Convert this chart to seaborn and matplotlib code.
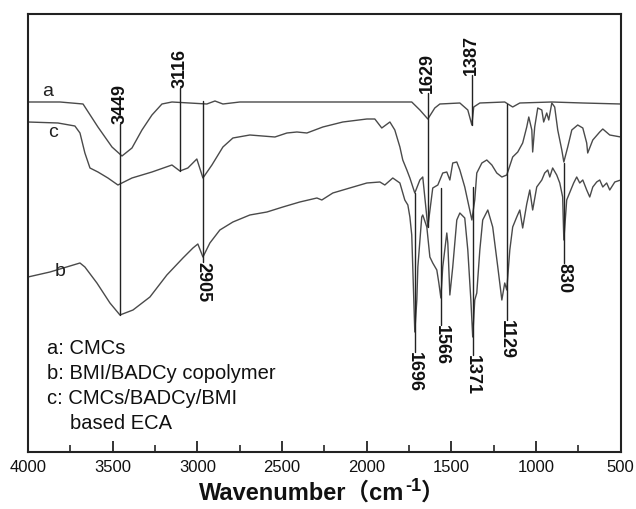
import numpy as np
import pandas as pd
import seaborn as sns
import matplotlib
matplotlib.use("Agg")
import matplotlib.pyplot as plt

# FTIR spectra, wavenumber (cm-1) and transmittance (a.u., stacked)
wn_a = [4000, 3811, 3675, 3587, 3504, 3445, 3386, 3327, 3268, 3209, 3150, 2944, 2896, 2849,
        2749, 2395, 1922, 1734, 1686, 1639, 1598, 1568, 1450, 1403, 1379, 1368, 1332, 1185,
        1138, 1096, 907, 724, 500]
t_a = [350, 350, 348, 325, 305, 296, 304, 322, 337, 348, 350, 348, 351, 348,
       350, 350, 350, 350, 342, 333, 344, 348, 349, 342, 327, 345, 349, 350,
       345, 349, 350, 349, 348]

wn_c = [4000, 3823, 3723, 3693, 3664, 3634, 3587, 3528, 3469, 3386, 3268, 3150, 3103, 3056,
        3003, 2967, 2914, 2849, 2790, 2690, 2542, 2471, 2412, 2353, 2259, 2141, 1999, 1952,
        1911, 1863, 1834, 1804, 1787, 1763, 1745, 1716, 1686, 1669, 1639, 1610, 1580, 1551,
        1527, 1509, 1492, 1468, 1450, 1421, 1379, 1362, 1350, 1320, 1291, 1261, 1232, 1202,
        1173, 1138, 1108, 1079, 1055, 1043, 1025, 1020, 1008, 990, 966, 955, 937, 925,
        907, 890, 872, 848, 836, 813, 789, 754, 724, 701, 695, 665, 624, 606, 565, 500]
t_c = [330, 329, 326, 319, 299, 284, 280, 274, 267, 274, 280, 287, 281, 284,
       293, 274, 287, 305, 314, 317, 315, 319, 320, 319, 325, 330, 333, 333,
       324, 330, 322, 305, 292, 282, 274, 259, 272, 275, 225, 264, 267, 279,
       280, 272, 289, 290, 282, 265, 232, 252, 279, 289, 292, 287, 279, 275,
       277, 295, 300, 309, 325, 335, 322, 300, 325, 344, 342, 330, 339, 332,
       349, 345, 322, 302, 290, 305, 322, 327, 324, 309, 299, 312, 320, 323, 317, 315]

wn_b = [4000, 3870, 3693, 3664, 3593, 3516, 3457, 3380, 3280, 3180, 3085, 3026, 2997, 2967,
        2926, 2867, 2790, 2690, 2589, 2495, 2395, 2294, 2265, 2200, 2100, 1999, 1922, 1893,
        1846, 1804, 1775, 1757, 1745, 1734, 1728, 1716, 1704, 1698, 1675, 1669, 1645, 1627,
        1610, 1586, 1574, 1562, 1551, 1527, 1521, 1509, 1492, 1468, 1450, 1421, 1403, 1385,
        1374, 1362, 1350, 1332, 1315, 1285, 1256, 1226, 1202, 1185, 1173, 1155, 1138, 1114,
        1096, 1079, 1055, 1037, 1020, 996, 966, 949, 931, 919, 902, 878, 860, 843,
        836, 819, 795, 778, 760, 742, 724, 701, 683, 665, 642, 624, 606, 583, 565, 535, 500]
t_b = [175, 180, 189, 185, 169, 149, 137, 142, 155, 177, 194, 204, 208, 195,
       209, 222, 230, 237, 240, 245, 250, 254, 252, 259, 264, 269, 270, 267,
       274, 269, 252, 247, 235, 217, 185, 120, 152, 185, 235, 237, 225, 195,
       189, 182, 169, 154, 185, 219, 209, 157, 185, 232, 239, 234, 202, 152,
       115, 152, 159, 202, 232, 242, 225, 185, 152, 169, 162, 202, 225, 235,
       242, 224, 248, 262, 242, 265, 272, 279, 282, 275, 284, 277, 269, 255,
       212, 252, 262, 269, 275, 269, 272, 262, 255, 265, 270, 272, 265, 269, 262, 270, 272]

# marked bands: label, position on axis, line top, line bottom, label side
peak_labels = ["3449", "3116", "2905", "1696", "1629", "1566", "1387", "1371", "1129", "830"]
peak_pos = [3457, 3103, 2967, 1716, 1639, 1562, 1379, 1374, 1173, 836]
line_top = [328, 364, 351, 259, 359, 264, 377, 265, 348, 289]
line_bot = [137, 281, 190, 100, 225, 127, 327, 97, 132, 189]
label_up = [True, True, False, False, True, False, True, False, False, False]

legend_lines = ["a: CMCs", "b: BMI/BADCy copolymer", "c: CMCs/BADCy/BMI", "based ECA"]
legend_x = [0.032, 0.032, 0.032, 0.071]

sns.set_theme(style="white")
plt.rcParams["font.family"] = ["Liberation Sans", "DejaVu Sans"]

fig = plt.figure(figsize=(6.36, 5.09), dpi=100)
ax = fig.add_axes([0.044, 0.112, 0.932, 0.8605])

curve_col = "#4a4a4a"
for wn, t in [(wn_a, t_a), (wn_b, t_b), (wn_c, t_c)]:
    df = pd.DataFrame({"wn": wn, "t": t})
    sns.lineplot(data=df, x="wn", y="t", color=curve_col, lw=1.0, estimator=None, ax=ax)

for lab, x, y0, y1, up in zip(peak_labels, peak_pos, line_top, line_bot, label_up):
    ax.plot([x, x], [y0, y1], color="#222222", lw=1.0)
    if up:
        ax.text(x, y0, lab, rotation=90, ha="center", va="bottom", fontsize=13,
                fontweight="bold", color="#111111")
    else:
        ax.text(x, y1, lab, rotation=270, ha="center", va="top", fontsize=13,
                fontweight="bold", color="#111111")

ax.text(3882, 360, "a", fontsize=14, ha="center", va="center", color="#222222")
ax.text(3852, 319, "c", fontsize=14, ha="center", va="center", color="#222222")
ax.text(3811, 180, "b", fontsize=14, ha="center", va="center", color="#222222")

for i, (s, lx) in enumerate(zip(legend_lines, legend_x)):
    ax.text(lx, 0.237 - i * 0.0575, s, transform=ax.transAxes, fontsize=14.5,
            ha="left", va="center", color="#111111")

ax.set_xlim(4000, 500)
ax.set_ylim(0, 438)
ax.set_xticks(np.arange(4000, 499, -500))
ax.set_xticks(np.arange(3750, 500, -500), minor=True)
ax.set_yticks([])
ax.tick_params(axis="x", which="major", direction="in", length=8, width=1.2, pad=6,
               labelsize=12, colors="#111111", bottom=True, top=False)
ax.tick_params(axis="x", which="minor", direction="in", length=5, width=1.2, bottom=True, top=False)
for sp in ax.spines.values():
    sp.set_linewidth(1.5)
    sp.set_color("#222222")
ax.set_xlabel("")
ax.set_ylabel("")

# x axis title with full-width brackets and superscript
fam = ["Liberation Sans", "Noto Sans CJK SC"]
parts = [("Wavenumber\uff08cm", 17, 0), ("-1", 13, 9), ("\uff09", 17, 0)]
texts = []
for s, size, dy in parts:
    texts.append(fig.text(0, 0, s, fontsize=size, fontweight="bold", family=fam,
                          ha="left", va="baseline", color="#111111"))
fig.canvas.draw()
r = fig.canvas.get_renderer()
widths = [t.get_window_extent(r).width for t in texts]
W = fig.bbox.width
x = 322 - sum(widths) / 2
base = 509 - 500
for t, (s, size, dy), w in zip(texts, parts, widths):
    t.set_position((x / W, (base + dy) / fig.bbox.height))
    x += w

fig.savefig("out.png", dpi=100)
